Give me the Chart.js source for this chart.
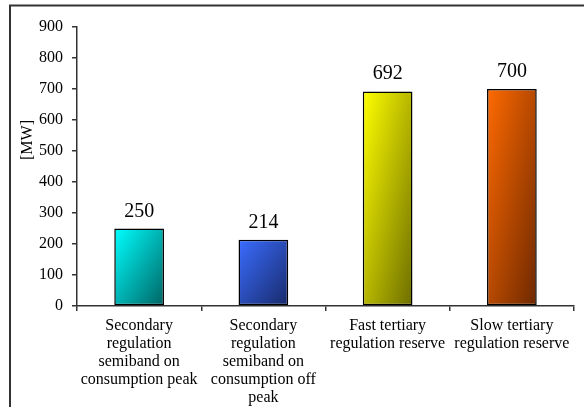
<!DOCTYPE html>
<html>
<head>
<meta charset="utf-8">
<script src="https://cdn.jsdelivr.net/npm/chart.js@4"></script>
<style>
  html, body { margin: 0; padding: 0; background: #fff; }
  #wrap { width: 584px; height: 407px; position: relative; }
</style>
</head>
<body>
<div id="wrap"><canvas id="reserveChart"></canvas></div>
<script>
const categories = [
    ['Secondary', 'regulation', 'semiband on', 'consumption peak'],
    ['Secondary', 'regulation', 'semiband on', 'consumption off', 'peak'],
    ['Fast tertiary', 'regulation reserve'],
    ['Slow tertiary', 'regulation reserve']
];
const values = [250, 214, 692, 700];
const yTicks = [0, 100, 200, 300, 400, 500, 600, 700, 800, 900];

// light (top-left) -> dark (bottom-right)
const barColors = [
    ['#00ffff', '#006464'],
    ['#3a6cff', '#182a6a'],
    ['#ffff00', '#6e6e00'],
    ['#ff6a00', '#6e2800']
];

const serif = "'Liberation Serif', 'Times New Roman', serif";

function barGradient(context) {
    const chart = context.chart;
    const i = context.dataIndex;
    if (!chart.chartArea || i === undefined) return barColors[i || 0][0];
    const meta = chart.getDatasetMeta(0);
    const bar = meta.data[i];
    const xs = chart.scales.x, ys = chart.scales.y;
    const cx = xs.getPixelForValue(i);
    const w = bar && bar.width ? bar.width : 49;
    const left = cx - w / 2;
    const top = ys.getPixelForValue(values[i]);
    const h = Math.max(1, ys.getPixelForValue(0) - top);
    // value = (dx/w + dy/h)/2
    const dx = 1 / (2 * w), dy = 1 / (2 * h);
    const n = dx * dx + dy * dy;
    const g = chart.ctx.createLinearGradient(left, top, left + dx / n, top + dy / n);
    g.addColorStop(0, barColors[i][0]);
    g.addColorStop(1, barColors[i][1]);
    return g;
}

const frameAndLabels = {
    id: 'frameAndLabels',
    afterDraw(chart) {
        const ctx = chart.ctx;
        ctx.save();
        // outer frame (left + top edges)
        ctx.strokeStyle = '#333';
        ctx.lineWidth = 2;
        ctx.beginPath();
        ctx.moveTo(10, 407);
        ctx.lineTo(10, 5.5);
        ctx.lineTo(584, 5.5);
        ctx.stroke();

        // y axis title
        ctx.fillStyle = '#000';
        ctx.font = '16px ' + serif;
        ctx.textAlign = 'center';
        ctx.textBaseline = 'middle';
        ctx.translate(28, 140);
        ctx.rotate(-Math.PI / 2);
        ctx.fillText('[MW]', 0, 0);
        ctx.restore();

        // value labels
        ctx.save();
        ctx.fillStyle = '#000';
        ctx.font = '20px ' + serif;
        ctx.textAlign = 'center';
        ctx.textBaseline = 'alphabetic';
        chart.getDatasetMeta(0).data.forEach((bar, i) => {
            ctx.fillText(String(values[i]), bar.x, bar.y - 12);
        });
        ctx.restore();
    }
};

const ctx = document.getElementById('reserveChart');

window.reserveChartInstance = new Chart(ctx, {
    type: 'bar',
    data: {
        labels: categories,
        datasets: [{
            label: 'Reserve',
            data: values,
            backgroundColor: barGradient,
            borderColor: '#000',
            borderWidth: 1.5,
            borderSkipped: false,
            categoryPercentage: 1,
            barPercentage: 0.4
        }]
    },
    options: {
        responsive: true,
        maintainAspectRatio: false,
        animation: false,
        layout: {
            padding: { left: 0, top: 27, right: 10, bottom: 0 }
        },
        plugins: {
            legend: { display: false },
            tooltip: { enabled: false }
        },
        scales: {
            x: {
                grid: {
                    display: true,
                    drawOnChartArea: false,
                    drawTicks: true,
                    tickLength: 5,
                    color: '#333',
                    lineWidth: 1.5
                },
                border: { color: '#333', width: 1.5 },
                ticks: {
                    color: '#000',
                    font: { family: serif, size: 16, lineHeight: 1.12 },
                    padding: 6,
                    maxRotation: 0,
                    autoSkip: false
                },
                afterFit(scale) { scale.height = 101; }
            },
            y: {
                min: 0,
                max: 900,
                afterBuildTicks(scale) {
                    scale.ticks = yTicks.map(v => ({ value: v }));
                },
                grid: {
                    display: true,
                    drawOnChartArea: false,
                    drawTicks: true,
                    tickLength: 5,
                    color: '#333',
                    lineWidth: 1.5
                },
                border: { color: '#333', width: 1.5 },
                ticks: {
                    color: '#000',
                    font: { family: serif, size: 16 },
                    padding: 9
                },
                afterFit(scale) { scale.width = 77; }
            }
        }
    },
    plugins: [frameAndLabels]
});
</script>
</body>
</html>
